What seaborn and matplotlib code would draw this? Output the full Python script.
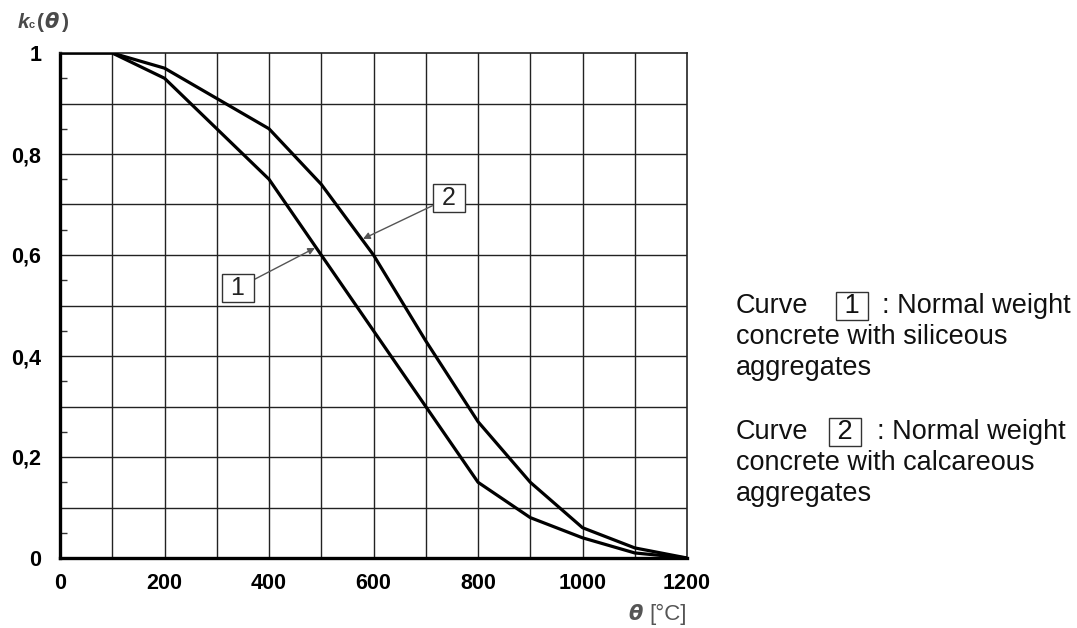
import numpy as np
import pandas as pd
import seaborn as sns
import matplotlib.pyplot as plt

# valeurs (EN 1992-1-2, kc(theta))
theta = [0, 100, 200, 300, 400, 500, 600, 700, 800, 900, 1000, 1100, 1200]
k_siliceous = [1.0, 1.0, 0.95, 0.85, 0.75, 0.60, 0.45, 0.30, 0.15, 0.08, 0.04, 0.01, 0.0]
k_calcareous = [1.0, 1.0, 0.97, 0.91, 0.85, 0.74, 0.60, 0.43, 0.27, 0.15, 0.06, 0.02, 0.0]

x_ticks = [0, 200, 400, 600, 800, 1000, 1200]
y_labels = ["0", "0,2", "0,4", "0,6", "0,8", "1"]

df = pd.DataFrame({
    "theta": theta * 2,
    "kc": k_siliceous + k_calcareous,
    "curve": ["1"] * len(theta) + ["2"] * len(theta),
})

sns.set_theme(style="white")
plt.rcParams["font.family"] = ["Liberation Sans", "DejaVu Sans"]

fig = plt.figure(figsize=(10.77, 6.28), dpi=100)
ax = fig.add_axes([60 / 1077, 1 - 558 / 628, 627 / 1077, 505 / 628])

sns.lineplot(data=df, x="theta", y="kc", hue="curve", palette=["black", "black"],
             linewidth=2.3, legend=False, ax=ax, zorder=5)

ax.set_xlim(0, 1200)
ax.set_ylim(0, 1)

# grille
for v in range(100, 1200, 100):
    ax.axvline(v, color="#222222", lw=1.0, zorder=1)
for v in np.arange(0.1, 1.0, 0.1):
    ax.axhline(v, color="#222222", lw=1.0, zorder=1)

ax.set_xticks(x_ticks)
ax.set_xticklabels([str(t) for t in x_ticks])
ax.set_yticks(np.arange(0, 1.01, 0.1))
ax.set_yticklabels([y_labels[i // 2] if i % 2 == 0 else "" for i in range(11)])
ax.set_yticks(np.arange(0.05, 1.0, 0.1), minor=True)
ax.set_xticks([], minor=True)

ax.tick_params(axis="y", which="major", direction="out", length=8.5, width=1.0,
               color="#777777", pad=5, labelsize=15.5)
ax.tick_params(axis="y", which="minor", direction="in", length=5, width=1.0,
               color="#333333", left=True)
ax.tick_params(axis="x", which="major", direction="out", length=7, width=1.0,
               color="#333333", pad=4, labelsize=15.5)
for lab in ax.get_xticklabels() + ax.get_yticklabels():
    lab.set_fontweight("bold")
    lab.set_color("black")

ax.set_xlabel("")
ax.set_ylabel("")

for side in ["left", "bottom"]:
    ax.spines[side].set_linewidth(2.4)
    ax.spines[side].set_color("black")
for side in ["top", "right"]:
    ax.spines[side].set_linewidth(1.2)
    ax.spines[side].set_color("#222222")

# étiquettes encadrées + flèches
box = dict(boxstyle="square,pad=0.08", fc="white", ec="#333333", lw=1.0)
ax.annotate(" 2 ", xy=(580, 0.632), xytext=(744, 0.713), fontsize=18, color="#222222",
            ha="center", va="center", bbox=box,
            arrowprops=dict(arrowstyle="-|>", color="#555555", lw=1.0,
                            mutation_scale=10, shrinkA=0, shrinkB=0), zorder=6)
ax.annotate(" 1 ", xy=(488, 0.614), xytext=(341, 0.535), fontsize=18, color="#222222",
            ha="center", va="center", bbox=box,
            arrowprops=dict(arrowstyle="-|>", color="#555555", lw=1.0,
                            mutation_scale=10, shrinkA=0, shrinkB=0), zorder=6)

# titre de l'axe y
tcol = "#4a4a4a"
yt = 1 - 28 / 628
fig.text(18 / 1077, yt, "k", fontsize=15, fontweight="bold", fontstyle="italic", color=tcol)
fig.text(29 / 1077, yt, "c", fontsize=8, fontweight="bold", color=tcol)
fig.text(37 / 1077, yt, "(", fontsize=15, fontweight="bold", color=tcol)
fig.text(44 / 1077, yt, "θ", fontsize=15, fontweight="bold", fontstyle="italic",
         color=tcol, family=["DejaVu Sans"])
fig.text(62 / 1077, yt, ")", fontsize=15, fontweight="bold", color=tcol)

# titre de l'axe x
fig.text(628 / 1077, 1 - 620 / 628, "θ", fontsize=15, fontweight="bold",
         fontstyle="italic", color="#555555", family=["DejaVu Sans"])
fig.text(649 / 1077, 1 - 620 / 628, "[°C]", fontsize=16, color="#555555")

# légende à droite
fs = 19.5
tc = "#111111"
def bloc(y0, num, xbox, xrest, l2, l3):
    fig.text(736 / 1077, 1 - y0 / 628, "Curve", fontsize=fs, color=tc, va="baseline")
    fig.text(xbox / 1077, 1 - y0 / 628, " " + num + " ", fontsize=fs, color=tc,
             va="baseline", ha="center",
             bbox=dict(boxstyle="square,pad=0.02", fc="white", ec="#333333", lw=1.0))
    fig.text(xrest / 1077, 1 - y0 / 628, ": Normal weight", fontsize=fs, color=tc,
             va="baseline")
    fig.text(736 / 1077, 1 - (y0 + 31) / 628, l2, fontsize=fs, color=tc, va="baseline")
    fig.text(736 / 1077, 1 - (y0 + 62) / 628, l3, fontsize=fs, color=tc, va="baseline")

bloc(313, "1", 852, 882, "concrete with siliceous", "aggregates")
bloc(439, "2", 845, 877, "concrete with calcareous", "aggregates")

fig.savefig("out.png", dpi=100, facecolor="white")
